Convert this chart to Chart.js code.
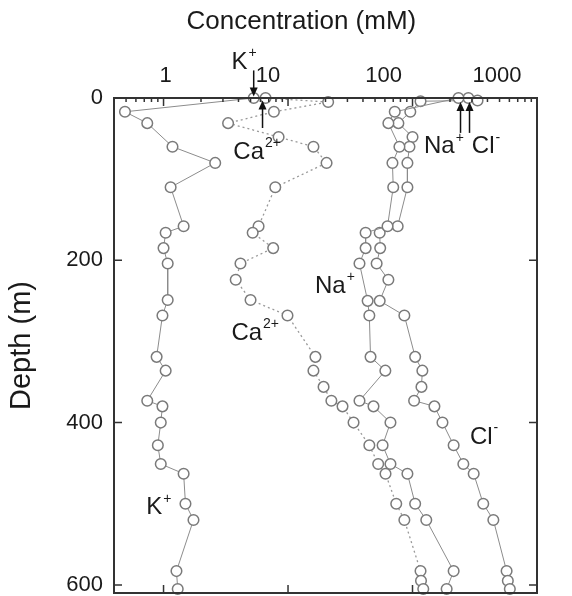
<!DOCTYPE html>
<html><head><meta charset="utf-8">
<script src="https://cdn.jsdelivr.net/npm/chart.js@4.4.1/dist/chart.umd.min.js"></script>
<style>html,body{margin:0;padding:0;background:#fff}#wrap{width:572px;height:596px}</style>
</head><body><div id="wrap"><canvas id="c" width="572" height="596"></canvas></div>
<script>
// ---- data ----
const xTickValues = [1, 10, 100, 1000];
const xTickLabels = ['1', '10', '100', '1000'];
const yTickValues = [0, 200, 400, 600];

const depthK = [0,17,31,60,80,110,158,166,185,204,249,268,319,336,373,380,400,428,451,463,500,520,583,605];
const valK   = [5.3,0.49,0.74,1.18,2.6,1.14,1.45,1.04,1.0,1.08,1.08,0.98,0.88,1.04,0.74,0.98,0.95,0.9,0.95,1.45,1.5,1.74,1.27,1.3];

const depthCa = [0,5,17,31,48,60,80,110,158,166,185,204,224,249,268,319,336,356,373,380,400,428,451,463,500,520,583,595,605];
const valCa   = [6.6,21,7.7,3.3,8.4,16,20.4,7.9,5.8,5.2,7.6,4.15,3.8,5.0,9.9,16.6,16,19.3,22.3,27.4,33.6,45,53,60.7,74,86,116,117,122];

const depthNa = [0,17,31,60,80,110,158,166,185,204,250,268,319,336,373,380,400,428,451,463,500,520,583,605];
const valNa   = [234,72,64,78.5,69,70,63,42,42,37.5,43.6,45,46,60.5,37.5,48.6,66.5,57.5,66.5,91,105,129,214,188];

const depthCl = [0,3,4,17,31,48,60,80,110,158,166,185,204,224,250,268,319,336,356,373,380,400,428,451,463,500,520,583,595,605];
const valCl   = [281,333,116,96,77,100,94.5,91,91,76,54.5,55,51.5,64,54.5,86,105,120,118,103,150,174,214,256,310,370,446,570,583,605];

const xTitle = 'Concentration (mM)';
const yTitle = 'Depth (m)';

// annotation labels: [base, superscript, concentration, depth]
const labelTexts = [
  ['K', '+', 4.4, -44],
  ['Ca', '2+', 5.6, 67],
  ['Na', '+', 177, 60],
  ['Cl', '-', 386, 60],
  ['Na', '+', 23.6, 232],
  ['Ca', '2+', 5.4, 290],
  ['Cl', '-', 372, 418],
  ['K', '+', 0.91, 505]
];
// arrows: [concentration, fromDepth, toDepth]
const arrows = [
  [5.3, -34, -2],
  [6.24, 37, 3],
  [243, 43, 5],
  [287, 43, 5]
];

// styling: horizontal shift of the top tick labels, as in the reference figure
const xLabelShift = [2, -20, -29, -40];

function pts(vals, depths) { return vals.map((v, i) => ({ x: v, y: depths[i] })); }

const FONT = '"Liberation Sans", Arial, sans-serif';
const AXIS = '#333';
const TXT = '#1a1a1a';

const frame = {
  id: 'frame',
  afterDatasetsDraw(chart) {
    const { ctx, chartArea: a, scales: { x, y } } = chart;
    ctx.save();
    ctx.strokeStyle = AXIS;
    ctx.lineWidth = 2;
    ctx.strokeRect(a.left, a.top, a.right - a.left, a.bottom - a.top);
    ctx.lineWidth = 1.5;
    ctx.beginPath();
    for (let d = -1; d < 3; d++) {
      for (let m = 1; m <= 9; m++) {
        const v = m * Math.pow(10, d);
        if (v < x.min || v > x.max) continue;
        const px = x.getPixelForValue(v);
        const len = (m === 1) ? 8 : 4;
        ctx.moveTo(px, a.top); ctx.lineTo(px, a.top + len);
      }
    }
    xTickValues.forEach(v => {
      const px = x.getPixelForValue(v);
      ctx.moveTo(px, a.bottom); ctx.lineTo(px, a.bottom - 8);
    });
    yTickValues.forEach(v => {
      const py = y.getPixelForValue(v);
      ctx.moveTo(a.left, py); ctx.lineTo(a.left + 8, py);
      ctx.moveTo(a.right, py); ctx.lineTo(a.right - 8, py);
    });
    ctx.stroke();

    // top tick labels
    ctx.fillStyle = TXT;
    ctx.font = '22px ' + FONT;
    ctx.textAlign = 'center';
    ctx.textBaseline = 'alphabetic';
    xTickValues.forEach((v, i) => {
      ctx.fillText(xTickLabels[i], x.getPixelForValue(v) + xLabelShift[i], a.top - 16);
    });

    // arrows
    ctx.strokeStyle = '#111'; ctx.fillStyle = '#111'; ctx.lineWidth = 1.5;
    arrows.forEach(([v, d0, d1]) => {
      const px = x.getPixelForValue(v);
      const y0 = y.getPixelForValue(d0), y1 = y.getPixelForValue(d1);
      const dir = y1 > y0 ? 1 : -1;
      ctx.beginPath(); ctx.moveTo(px, y0); ctx.lineTo(px, y1 - dir * 8); ctx.stroke();
      ctx.beginPath(); ctx.moveTo(px, y1); ctx.lineTo(px - 4, y1 - dir * 9); ctx.lineTo(px + 4, y1 - dir * 9); ctx.closePath(); ctx.fill();
    });

    // labels
    ctx.fillStyle = TXT;
    ctx.textBaseline = 'middle';
    labelTexts.forEach(([b, s, v, d]) => {
      const cx = x.getPixelForValue(v), cy = y.getPixelForValue(d);
      ctx.font = '24px ' + FONT;
      const wb = ctx.measureText(b).width;
      ctx.font = '14px ' + FONT;
      const ws = ctx.measureText(s).width;
      const x0 = cx - (wb + ws) / 2;
      ctx.font = '24px ' + FONT;
      ctx.textAlign = 'left';
      ctx.fillText(b, x0, cy);
      ctx.font = '14px ' + FONT;
      ctx.fillText(s, x0 + wb + 1, cy - 9);
    });

    // x axis title
    ctx.font = '26px ' + FONT;
    ctx.textAlign = 'center';
    ctx.fillText(xTitle, a.left + (a.right - a.left) * 0.443, 22);
    ctx.restore();
  }
};

const ptStyle = { pointRadius: 5.3, pointHoverRadius: 5.3, pointBorderWidth: 1.5, pointBorderColor: '#7a7a7a', pointBackgroundColor: '#fff', clip: false };

new Chart(document.getElementById('c'), {
  type: 'scatter',
  data: {
    datasets: [
      Object.assign({ label: 'K+', data: pts(valK, depthK), showLine: true, borderColor: '#8c8c8c', borderWidth: 1 }, ptStyle),
      Object.assign({ label: 'Ca2+', data: pts(valCa, depthCa), showLine: true, borderColor: '#999', borderWidth: 1.3, borderDash: [2, 3] }, ptStyle),
      Object.assign({ label: 'Na+', data: pts(valNa, depthNa), showLine: true, borderColor: '#8c8c8c', borderWidth: 1 }, ptStyle),
      Object.assign({ label: 'Cl-', data: pts(valCl, depthCl), showLine: true, borderColor: '#8c8c8c', borderWidth: 1 }, ptStyle)
    ]
  },
  options: {
    responsive: false,
    animation: false,
    devicePixelRatio: 1,
    layout: { autoPadding: false, padding: { left: 0, top: 0, right: 35, bottom: 3 } },
    plugins: { legend: { display: false }, tooltip: { enabled: false } },
    scales: {
      x: {
        type: 'logarithmic', position: 'top', min: 0.4, max: 1000,
        afterBuildTicks: s => { s.ticks = xTickValues.map(v => ({ value: v })); },
        afterFit: s => { s.height = 98; s.paddingLeft = 0; s.paddingRight = 0; s.paddingTop = 0; s.paddingBottom = 0; },
        grid: { display: false, drawTicks: false },
        border: { display: false },
        ticks: { display: false }
      },
      y: {
        type: 'linear', reverse: true, min: 0, max: 610,
        afterBuildTicks: s => { s.ticks = yTickValues.map(v => ({ value: v })); },
        afterFit: s => { s.width = 114; s.paddingTop = 0; s.paddingBottom = 0; s.paddingLeft = 0; s.paddingRight = 0; },
        grid: { display: false, drawTicks: false },
        border: { display: false },
        title: { display: true, text: yTitle, font: { size: 29, family: FONT }, color: TXT, padding: { top: 5, bottom: 0 } },
        ticks: { font: { size: 22, family: FONT }, color: TXT, padding: 11 }
      }
    }
  },
  plugins: [frame]
});
</script></body></html>
